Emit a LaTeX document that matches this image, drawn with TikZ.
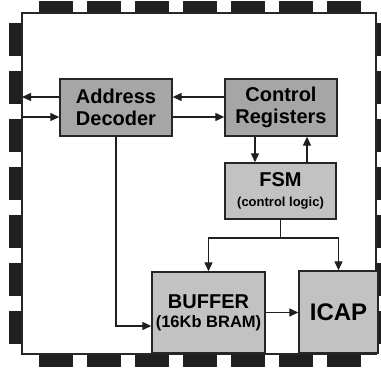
\documentclass[tikz,border=0pt]{standalone}
\usepackage{fontspec}
\setmainfont{Liberation Sans}
\usetikzlibrary{arrows.meta}

\tikzset{
  blk/.style={draw=black!85, line width=1.4pt, fill=#1, inner sep=0pt, align=center,
    font=\bfseries\fontsize{20}{22}\selectfont},
  pin/.style={fill=black!88, draw=none},
  conn/.style={line width=1.3pt, draw=black!88, -{Triangle[length=9pt,width=8pt]}},
  wire/.style={line width=1.3pt, draw=black!88},
}

\begin{document}
\begin{tikzpicture}[x=1pt,y=-1pt]
\useasboundingbox (0,0) rectangle (381,369);

% pins round the chip
\foreach \p in {39,87,...,327} {
  \fill[pin] (\p,1) rectangle ++(34,12);
  \fill[pin] (\p,354) rectangle ++(34,13);
}
\foreach \p in {23,71,...,311} {
  \fill[pin] (9,\p) rectangle ++(13,33);
  \fill[pin] (376,\p) rectangle ++(13,33);
}
\draw[line width=1.5pt, draw=black!85, fill=white] (22,13) rectangle (376,354);

\node (AD) at (116,107.5) [blk=black!35, minimum width=112pt, minimum height=57pt] {Address\\Decoder};
\node (CR) at (281,107.5) [blk=black!35, minimum width=112pt, minimum height=57pt] {Control\\Registers};
\node (FSM) at (280.5,191) [blk=black!24, minimum width=111pt, minimum height=56pt]
  {FSM\\[-2pt]{\fontsize{13}{15}\selectfont (control logic)}};
\node (BUF) at (208.5,312.5) [blk=black!24, minimum width=113pt, minimum height=81pt]
  {BUFFER\\[-3pt]{\fontsize{16.5}{18}\selectfont (16Kb BRAM)}};
\node (ICAP) at (338.5,312) [blk=black!24, minimum width=79pt, minimum height=82pt,
  font=\bfseries\fontsize{24}{26}\selectfont] {ICAP};

\coordinate (outL) at (22,97);
\coordinate (inL) at (22,117);
\coordinate (dn) at (255,0);
\coordinate (up) at (307,0);
\coordinate (split) at (280.5,238);
\coordinate (bin) at (0,326);

\draw [conn] (AD.west |- outL) -- (outL);
\draw [conn] (inL) -- (inL -| AD.west);
\draw [conn] (AD.east |- inL) -- (CR.west |- inL);
\draw [conn] (CR.west |- outL) -- (AD.east |- outL);
\draw [conn] (CR.south -| dn) -- (FSM.north -| dn);
\draw [conn] (FSM.north -| up) -- (CR.south -| up);
\draw [wire] (FSM.south) -- (split);
\draw [conn] (split) -| (BUF.north);
\draw [conn] (split) -| (ICAP.north);
\draw [conn] (AD.south) |- (BUF.west |- bin);
\draw [conn] (BUF.east) -- (BUF.east -| ICAP.west);

\end{tikzpicture}
\end{document}
